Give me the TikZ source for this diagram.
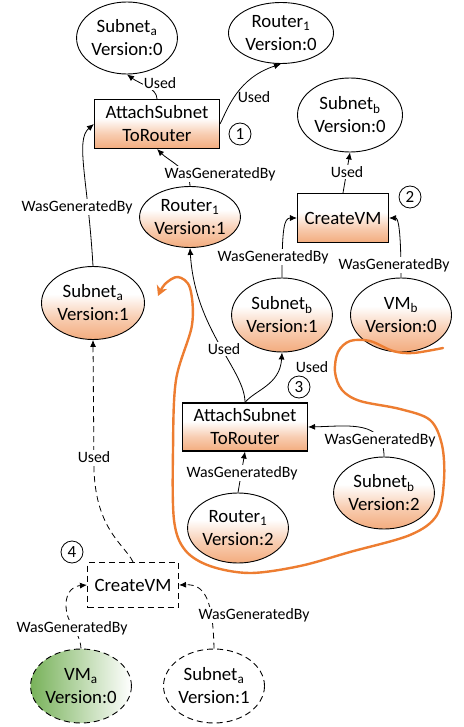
\documentclass[tikz,border=0pt]{standalone}
\usepackage{fontspec}
\setmainfont{Carlito}
\usetikzlibrary{shapes.geometric,arrows.meta}

\definecolor{peach}{RGB}{243,172,126}
\definecolor{provorange}{RGB}{237,125,49}
\definecolor{vmgreen}{RGB}{120,178,90}

% white at the top, fading into peach towards the bottom
\pgfdeclareverticalshading{peachfade}{100bp}{%
  color(0bp)=(peach); color(25bp)=(peach); color(40bp)=(peach!60!white);
  color(56bp)=(white); color(100bp)=(white)}

\newcommand{\entfont}{\fontsize{18.8}{23}\selectfont}
\newcommand{\lblfont}{\fontsize{15.8}{18}\selectfont}
\newcommand{\stepnumfont}{\fontsize{17}{18}\selectfont}

\begin{document}
\begin{tikzpicture}[x=1pt,y=-1pt,
  entity/.style={ellipse, draw, line width=0.9pt, inner sep=0pt, align=center, font=\entfont},
  derived/.style={entity, shading=peachfade},
  activity/.style={rectangle, draw, line width=1.1pt, inner sep=0pt, align=center, font=\entfont},
  derivedact/.style={activity, shading=peachfade},
  stepnum/.style={circle, draw, line width=0.8pt, minimum size=22pt, inner sep=0pt, font=\stepnumfont},
  lbl/.style={font=\lblfont, fill=white, inner sep=1pt},
  rel/.style={line width=0.8pt, -{Latex[length=7pt,width=6pt]}},
  planned/.style={dash pattern=on 6pt off 4pt},
  flow/.style={line width=2.4pt, provorange, line cap=round, -{Stealth[length=10pt,width=11pt,inset=3pt]}}
]
\useasboundingbox (0,0) rectangle (463,727);

% ---- step 1: attach subnet a to router 1
\node[entity, minimum width=100pt, minimum height=72pt] (sa0) at (127,38) {Subnet\textsubscript{a}\\Version:0};
\node[entity, minimum width=105pt, minimum height=61pt] (r0) at (281,33) {Router\textsubscript{1}\\Version:0};
\node[derivedact, minimum width=125pt, minimum height=49pt] (att1) at (157,124) {AttachSubnet\\ToRouter};
\node[stepnum] (n1) at (240,134) {1};
\node[derived, minimum width=99pt, minimum height=61pt] (r1) at (190,217) {Router\textsubscript{1}\\Version:1};
\node[derived, minimum width=103pt, minimum height=73pt] (sa1) at (93,303) {Subnet\textsubscript{a}\\Version:1};

% ---- step 2: create VM b on subnet b
\node[entity, minimum width=105pt, minimum height=74pt] (sb0) at (350,115) {Subnet\textsubscript{b}\\Version:0};
\node[derivedact, minimum width=91pt, minimum height=49pt] (cvm2) at (343,218) {CreateVM};
\node[stepnum] (n2) at (410,197) {2};
\node[derived, minimum width=100pt, minimum height=74pt] (sb1) at (282,315) {Subnet\textsubscript{b}\\Version:1};
\node[derived, minimum width=101pt, minimum height=74pt] (vmb) at (401,315) {VM\textsubscript{b}\\Version:0};

% ---- step 3: attach subnet b to router 1
\node[derivedact, minimum width=125pt, minimum height=48pt] (att3) at (245,427) {AttachSubnet\\ToRouter};
\node[stepnum] (n3) at (299,387) {3};
\node[derived, minimum width=100pt, minimum height=70pt] (r2) at (238,528) {Router\textsubscript{1}\\Version:2};
\node[derived, minimum width=99pt, minimum height=72pt] (sb2) at (384,493) {Subnet\textsubscript{b}\\Version:2};

% ---- step 4: planned VM a on subnet a
\node[activity, planned, minimum width=91pt, minimum height=45pt] (cvm4) at (133,585) {CreateVM};
\node[stepnum] (n4) at (72,552) {4};
\node[entity, planned, minimum width=100pt, minimum height=74pt, left color=vmgreen, right color=white] (vma) at (81,686) {VM\textsubscript{a}\\Version:0};
\node[entity, planned, minimum width=101pt, minimum height=74pt] (sa1p) at (214,686) {Subnet\textsubscript{a}\\Version:1};

% ---- relations
\draw[rel] (att1.north) .. controls (157,88) and (140,84) .. (sa0.south);
\draw[rel] (att1.east) .. controls (228,108) and (238,78) .. (r0.south);
\draw[rel] (cvm2.north) -- (sb0.south);
\draw[rel] (r1.north) .. controls (190,170) and (168,160) .. (att1.south);
\draw[rel] (sa1.north) .. controls (88,180) and (75,140) .. (att1.west);
\draw[rel] (sb1.north) .. controls (282,228) and (284,218) .. (cvm2.west);
\draw[rel] (vmb.north) .. controls (401,228) and (398,218) .. (cvm2.east);
\draw[rel] (att3.north) .. controls (245,370) and (195,330) .. (r1.south);
\draw[rel] (att3.north) .. controls (255,390) and (280,385) .. (sb1.south);
\draw[rel] (r2.north) -- (att3.south);
\draw[rel] (sb2.north) .. controls (384,420) and (350,426) .. (att3.east);
\draw[rel, planned] (cvm4.north) .. controls (125,545) and (96,530) .. (94,470) -- (sa1.south);
\draw[rel, planned] (vma.north) .. controls (80,630) and (66,625) .. (66,605) .. controls (66,590) and (75,586) .. (cvm4.west);
\draw[rel, planned] (sa1p.north) .. controls (213,600) and (205,584) .. (cvm4.east);

% ---- relation labels
\node[lbl] (u1) at (160,83) {Used};
\node[lbl, fill=none] (u2) at (254,97) {Used};
\node[lbl] (u3) at (347,172) {Used};
\node[lbl] (g1) at (220,174) {WasGeneratedBy};
\node[lbl] (g2) at (77,207) {WasGeneratedBy};
\node[lbl] (g3) at (273,257) {WasGeneratedBy};
\node[lbl] (g4) at (394,265) {WasGeneratedBy};
\node[lbl] (u4) at (224,349) {Used};
\node[lbl] (u5) at (312,367) {Used};
\node[lbl] (g5) at (242,473) {WasGeneratedBy};
\node[lbl] (g6) at (380,440) {WasGeneratedBy};
\node[lbl] (u6) at (94,457) {Used};
\node[lbl] (g7) at (72,628) {WasGeneratedBy};
\node[lbl] (g8) at (254,615) {WasGeneratedBy};

% ---- rollback region around step 3
\draw[flow] plot[smooth, tension=0.55] coordinates {
  (443,348) (413,353) (393,351) (370,341) (350,341) (338,352) (335,372)
  (342,390) (360,401) (400,409) (430,420) (442,445) (444,480) (437,515)
  (410,535) (350,552) (300,566) (250,573) (210,566) (185,550) (174,520)
  (173,450) (176,380) (192,325) (190,288) (178,277) (165,284) (158,296)};
\end{tikzpicture}
\end{document}
